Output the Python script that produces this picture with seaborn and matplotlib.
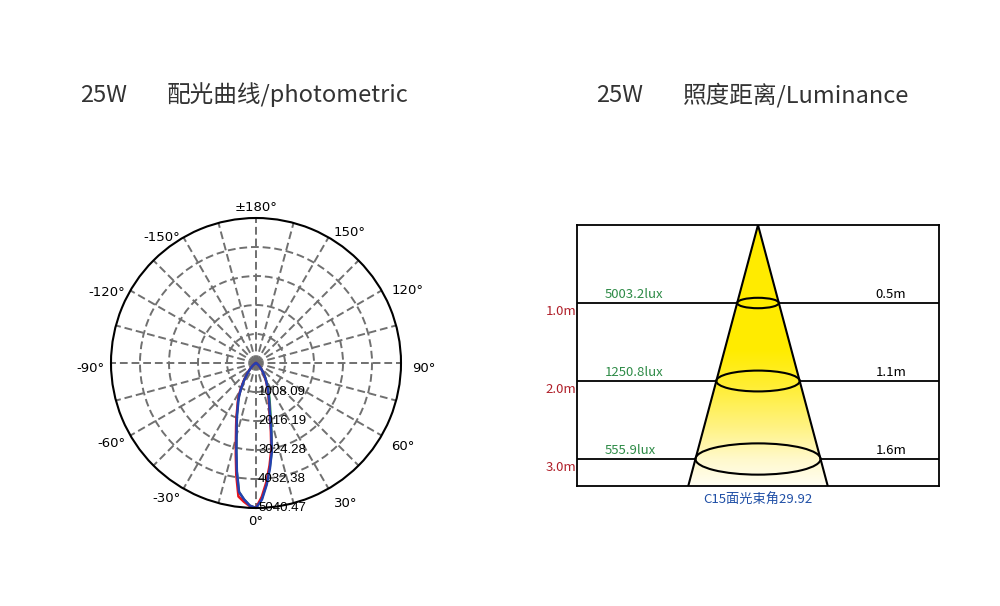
import numpy as np
import matplotlib
matplotlib.use('Agg')
import matplotlib.pyplot as plt
import matplotlib.transforms as mtransforms
from matplotlib.patches import Polygon, Ellipse
from matplotlib.colors import LinearSegmentedColormap
import seaborn as sns

sns.set_theme(style='white')
plt.rcParams['font.family'] = ['Noto Sans CJK SC', 'DejaVu Sans']

# ---------------- data ----------------
gamma_deg = [-90, -80, -70, -60, -55, -50, -45, -40, -35, -32.5, -30, -27.5, -25, -22.5, -20,
             -17.5, -15, -12.5, -10, -7.5, -5, -2.5, 0,
             2.5, 5, 7.5, 10, 12.5, 15, 17.5, 20, 22.5, 25, 27.5, 30, 32.5, 35,
             40, 45, 50, 55, 60, 70, 80, 90]
red_c0 = [0, 0, 10, 50, 95, 170, 290, 470, 720, 880, 1080, 1300, 1500, 1700, 1990,
          2300, 2700, 3250, 3950, 4680, 4840, 4980, 5040,
          4650, 4150, 3600, 3060, 2380, 1850, 1500, 1280, 1100, 930, 790, 670, 560, 465,
          310, 195, 115, 62, 33, 8, 0, 0]
blue_c90 = [0, 0, 10, 48, 90, 165, 280, 455, 700, 855, 1050, 1260, 1460, 1650, 1930,
            2230, 2620, 3150, 3830, 4520, 4760, 4960, 5040,
            4750, 4250, 3700, 3150, 2450, 1900, 1550, 1320, 1130, 960, 810, 690, 580, 480,
            320, 200, 120, 65, 35, 8, 0, 0]
green_c45 = [0, 0, 10, 48, 90, 165, 280, 455, 700, 855, 1050, 1260, 1460, 1650, 1930,
             2230, 2620, 3150, 3830, 4520, 4760, 4960, 5040,
             4720, 4220, 3680, 3150, 2500, 2000, 1650, 1400, 1200, 1010, 850, 720, 600, 495,
             325, 200, 120, 65, 35, 8, 0, 0]
r_ticks = [1008.09, 2016.19, 3024.28, 4032.38, 5040.47]
theta_grid_deg = [0, 15, 30, 45, 60, 75, 90, 105, 120, 135, 150, 165, 180,
                  195, 210, 225, 240, 255, 270, 285, 300, 315, 330, 345]
theta_label_deg = [0, 30, 60, 90, 120, 150, 180, 210, 240, 270, 300, 330]
theta_labels = ['0°', '30°', '60°', '90°', '120°', '150°', '±180°',
                '-150°', '-120°', '-90°', '-60°', '-30°']

distances_m = [1.0, 2.0, 3.0]
lux_values = [5003.2, 1250.8, 555.9]
spot_diameters = [0.5, 1.1, 1.6]
beam_angle = 29.92
caption = 'C15面光束角29.92'

# ---------------- figure ----------------
fig = plt.figure(figsize=(10, 6.06), dpi=100)
fig.patch.set_facecolor('white')

title_color = '#333333'
ty = 1 - 95 / 606
fig.text(0.080, ty, '25W', fontsize=17, color=title_color, va='center', ha='left')
fig.text(0.167, ty, '配光曲线/photometric', fontsize=17, color=title_color, va='center', ha='left')
fig.text(0.596, ty, '25W', fontsize=17, color=title_color, va='center', ha='left')
fig.text(0.683, ty, '照度距离/Luminance', fontsize=17, color=title_color, va='center', ha='left')

# ---------------- polar plot ----------------
ax = fig.add_axes([0.111, 1 - 508 / 606, 0.290, 290 / 606], projection='polar')
ax.set_theta_zero_location('S')
ax.set_theta_direction(1)
ax.set_facecolor('white')

theta = np.deg2rad(gamma_deg)
sns.lineplot(x=theta, y=green_c45, ax=ax, sort=False, estimator=None, color='#2E9E4A', lw=1.6)
sns.lineplot(x=theta, y=red_c0, ax=ax, sort=False, estimator=None, color='#E8141C', lw=1.8)
sns.lineplot(x=theta, y=blue_c90, ax=ax, sort=False, estimator=None, color='#2440B0', lw=1.8)

rmax = r_ticks[-1]
ax.set_ylim(0, rmax)
ax.set_yticks(r_ticks[:-1])
ax.set_yticklabels([])
ax.set_xticks(np.deg2rad(theta_grid_deg))
ax.set_xticklabels([])
ax.grid(True, color='#707070', linestyle=(0, (4, 2)), linewidth=1.4)
ax.spines['polar'].set_color('black')
ax.spines['polar'].set_linewidth(1.5)
ax.set_xlabel('')
ax.set_ylabel('')

# angle labels
for deg, lab in zip(theta_label_deg, theta_labels):
    s = np.sin(np.deg2rad(deg))
    if deg == 0:
        ha, va, dy, rl = 'center', 'top', 0, 152
    elif deg == 180:
        ha, va, dy, rl = 'center', 'bottom', -3, 152
    elif s > 0:
        ha, va, dy, rl = 'left', 'center', -5, 156
    else:
        ha, va, dy, rl = 'right', 'center', -5, 151
    tr = mtransforms.offset_copy(ax.transData, fig=fig, x=0, y=dy, units='dots')
    ax.text(np.deg2rad(deg), rmax * rl / 145, lab, transform=tr, ha=ha, va=va, fontsize=9.5,
            family='DejaVu Sans', color='black', clip_on=False)

# radial labels
off = mtransforms.offset_copy(ax.transData, fig=fig, x=2, y=0, units='dots')
for r in r_ticks:
    ax.text(0, r, f'{r:.2f}', transform=off, ha='left', va='center', fontsize=9.5,
            family='Liberation Sans', color='black', zorder=5, clip_on=False)

# ---------------- luminance diagram ----------------
ax2 = fig.add_axes([0.577, 1 - 486 / 606, 0.362, 261 / 606])
xmax = 2.32
ybot = 3.346
half_tan = np.tan(np.deg2rad(beam_angle / 2))
hw = ybot * half_tan

cmap = LinearSegmentedColormap.from_list('beam', [(0.0, '#FFEB00'), (0.48, '#FFEC00'),
                                                  (0.62, '#FFEE35'), (0.78, '#FFF385'),
                                                  (0.9, '#FFF9CC'), (1.0, '#FFFEF2')])
grad = np.linspace(0, 1, 256).reshape(-1, 1)
im = ax2.imshow(grad, extent=[-xmax, xmax, ybot, 0], aspect='auto', cmap=cmap,
                origin='upper', zorder=2, interpolation='bilinear')
tri = Polygon([(0, 0), (-hw, ybot), (hw, ybot)], closed=True, transform=ax2.transData,
              facecolor='none', edgecolor='none')
ax2.add_patch(tri)
im.set_clip_path(tri)

for d in distances_m:
    ax2.axhline(d, color='black', lw=1.3, zorder=1)
ax2.plot([-hw, 0, hw], [ybot, 0, ybot], color='black', lw=1.5, zorder=4)

for d, lux, dia in zip(distances_m, lux_values, spot_diameters):
    w = 2 * d * half_tan
    ax2.add_patch(Ellipse((0, d), width=w, height=0.25 * w, fill=False, ec='black', lw=1.5, zorder=4))
    ax2.text(-1.96, d - 0.03, f'{lux}lux', color='#2E8B47', fontsize=9.5, ha='left', va='bottom')
    ax2.text(1.51, d - 0.03, f'{dia}m', color='black', fontsize=9.5, ha='left', va='bottom')
    ax2.text(-xmax - 0.01, d + 0.02, f'{d:.1f}m', color='#B0202A', fontsize=9.5, ha='right', va='top',
             clip_on=False)

ax2.text(0, 3.53, caption, color='#1F4FA6', fontsize=9.5, ha='center', va='center', clip_on=False)

ax2.set_xlim(-xmax, xmax)
ax2.set_ylim(ybot, 0)
ax2.set_xticks([])
ax2.set_yticks([])
ax2.grid(False)
ax2.set_facecolor('white')
for s in ax2.spines.values():
    s.set_color('black')
    s.set_linewidth(1.3)
    s.set_visible(True)

fig.savefig('out.png', dpi=100, facecolor='white')
